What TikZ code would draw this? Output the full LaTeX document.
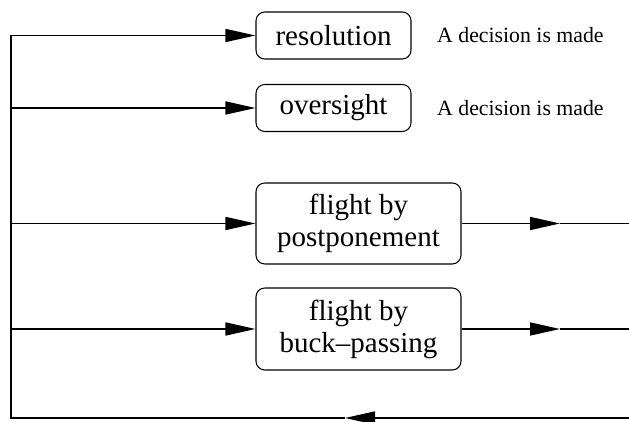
\documentclass[tikz,border=0pt]{standalone}
\usepackage{fontspec}
\setmainfont{Liberation Serif}
\usetikzlibrary{arrows.meta}

\begin{document}
\begin{tikzpicture}[
  choice/.style={draw, line width=0.6pt, rounded corners=5pt, minimum height=0.94cm,
                 align=center, font=\rmfamily\fontsize{16.5}{18.2}\selectfont},
  arrow/.style={-{Triangle[length=0.6cm, width=0.26cm]}, line width=0.9pt},
  note/.style={anchor=west, font=\rmfamily\fontsize{12.4}{14}\selectfont},
]
\useasboundingbox (0,0) rectangle (12.58,-8.44);

% Boîtes
\node[choice, minimum width=3.10cm] (res) at (6.67,-0.71) {resolution};
\node[choice, minimum width=3.10cm] (ovs) at (6.67,-2.16) {oversight};
\node[choice, minimum width=4.10cm, minimum height=1.62cm] (pp) at (7.17,-4.47) {flight by\\postponement};
\node[choice, minimum width=4.10cm, minimum height=1.64cm] (bp) at (7.17,-6.58) {flight by\\buck--passing};

% Annotations
\node[note] (resnote) at (8.62,-0.71) {A decision is made};
\node[note] (ovsnote) at (8.62,-2.16) {A decision is made};

% Points de la boucle
\coordinate (tl) at (0.22,-0.71);
\coordinate (bl) at (0.22,-8.36);
\coordinate (br) at (12.58,-8.36);
\coordinate (bmid) at (6.9,-8.36);
\coordinate (ppmid) at (11.2,-4.47);
\coordinate (ppend) at (12.58,-4.47);
\coordinate (bpmid) at (11.2,-6.58);
\coordinate (bpend) at (12.58,-6.58);

% Flèches
\draw[arrow] (tl) -- (res.west);
\draw[arrow] (tl |- ovs) -- (ovs.west);
\draw[arrow] (tl |- pp) -- (pp.west);
\draw[arrow] (tl |- bp) -- (bp.west);
\draw[arrow] (pp.east) -- (ppmid);
\draw[line width=0.9pt] (ppmid) -- (ppend);
\draw[arrow] (bp.east) -- (bpmid);
\draw[line width=0.9pt] (bpmid) -- (bpend);
\draw[arrow] (br) -- (bmid);
\draw[line width=0.9pt] (bmid) -- (bl) -- (tl);

\end{tikzpicture}
\end{document}
